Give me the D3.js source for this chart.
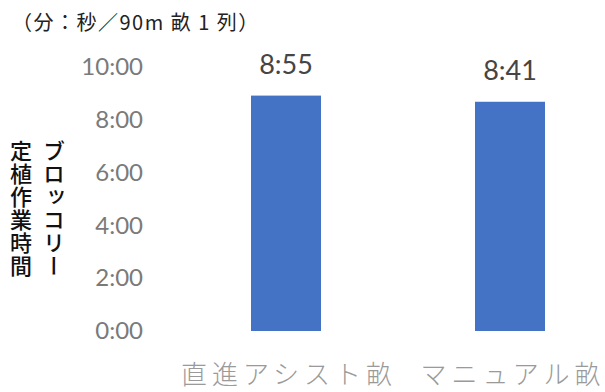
<!DOCTYPE html>
<html>
<head>
<meta charset="utf-8">
<script src="https://cdn.jsdelivr.net/npm/d3@7"></script>
<style>
  html, body { margin: 0; padding: 0; background: #fff; }
  svg { display: block; }
</style>
</head>
<body>
<svg id="chart" width="605" height="392"></svg>
<script>
// Broccoli transplanting time per 90 m ridge row, in seconds
const categories = ["直進アシスト畝", "マニュアル畝"];
const valueLabels = ["8:55", "8:41"];
const seconds = [535, 521];
const tickValues = [0, 120, 240, 360, 480, 600];
const tickLabels = ["0:00", "2:00", "4:00", "6:00", "8:00", "10:00"];
const unitNote = "（分：秒／90m 畝 1 列）";
const axisTitle = ["ブロッコリー", "定植作業時間"];

const svg = d3.select("#chart");
const jp = "'Noto Sans CJK JP', 'Noto Sans', sans-serif";
const num = "Lato, 'Open Sans', 'Noto Sans', sans-serif";

const x = d3.scaleBand()
  .domain(categories)
  .range([174, 622])
  .paddingInner(0.6875)
  .paddingOuter(0.34375);

const y = d3.scaleLinear().domain([0, 600]).range([331, 67]);

// y axis: labels only, no line or ticks
const yAxis = d3.axisLeft(y)
  .tickValues(tickValues)
  .tickFormat((d, i) => tickLabels[i])
  .tickSize(0)
  .tickPadding(5);

const gy = svg.append("g").attr("transform", "translate(148,0)").call(yAxis);
gy.select(".domain").remove();
gy.selectAll("text")
  .attr("font-family", num)
  .attr("font-size", 24)
  .attr("font-weight", 400)
  .attr("fill", "#7a7a7a");

// bars
svg.append("g").selectAll("rect")
  .data(seconds)
  .join("rect")
  .attr("x", (d, i) => x(categories[i]))
  .attr("width", x.bandwidth())
  .attr("y", d => y(d))
  .attr("height", d => y(0) - y(d))
  .attr("fill", "#4472C4");

// value labels
svg.append("g").selectAll("text")
  .data(seconds)
  .join("text")
  .attr("x", (d, i) => x(categories[i]) + x.bandwidth() / 2)
  .attr("y", d => y(d) - 22)
  .attr("text-anchor", "middle")
  .attr("font-family", num)
  .attr("font-size", 27)
  .attr("fill", "#454545")
  .text((d, i) => valueLabels[i]);

// category labels
svg.append("g").selectAll("text")
  .data(categories)
  .join("text")
  .attr("x", d => x(d) + x.bandwidth() / 2 + 3)
  .attr("y", 384)
  .attr("text-anchor", "middle")
  .attr("font-family", jp)
  .attr("font-weight", 300)
  .attr("font-size", 26)
  .attr("letter-spacing", 5)
  .attr("fill", "#9a9a9a")
  .text(d => d);

// unit note
svg.append("text")
  .attr("x", 12)
  .attr("y", 30)
  .attr("font-family", jp)
  .attr("font-size", 20)
  .attr("letter-spacing", 1.5)
  .attr("fill", "#222")
  .text(unitNote);

// vertical axis title, two columns read right to left
svg.append("g").selectAll("text")
  .data(axisTitle)
  .join("text")
  .attr("x", (d, i) => i === 0 ? 54 : 21)
  .attr("y", 140)
  .attr("font-family", jp)
  .attr("font-size", 22)
  .attr("font-weight", 500)
  .attr("fill", "#111")
  .style("writing-mode", "vertical-rl")
  .attr("letter-spacing", 1)
  .text(d => d);
</script>
</body>
</html>
